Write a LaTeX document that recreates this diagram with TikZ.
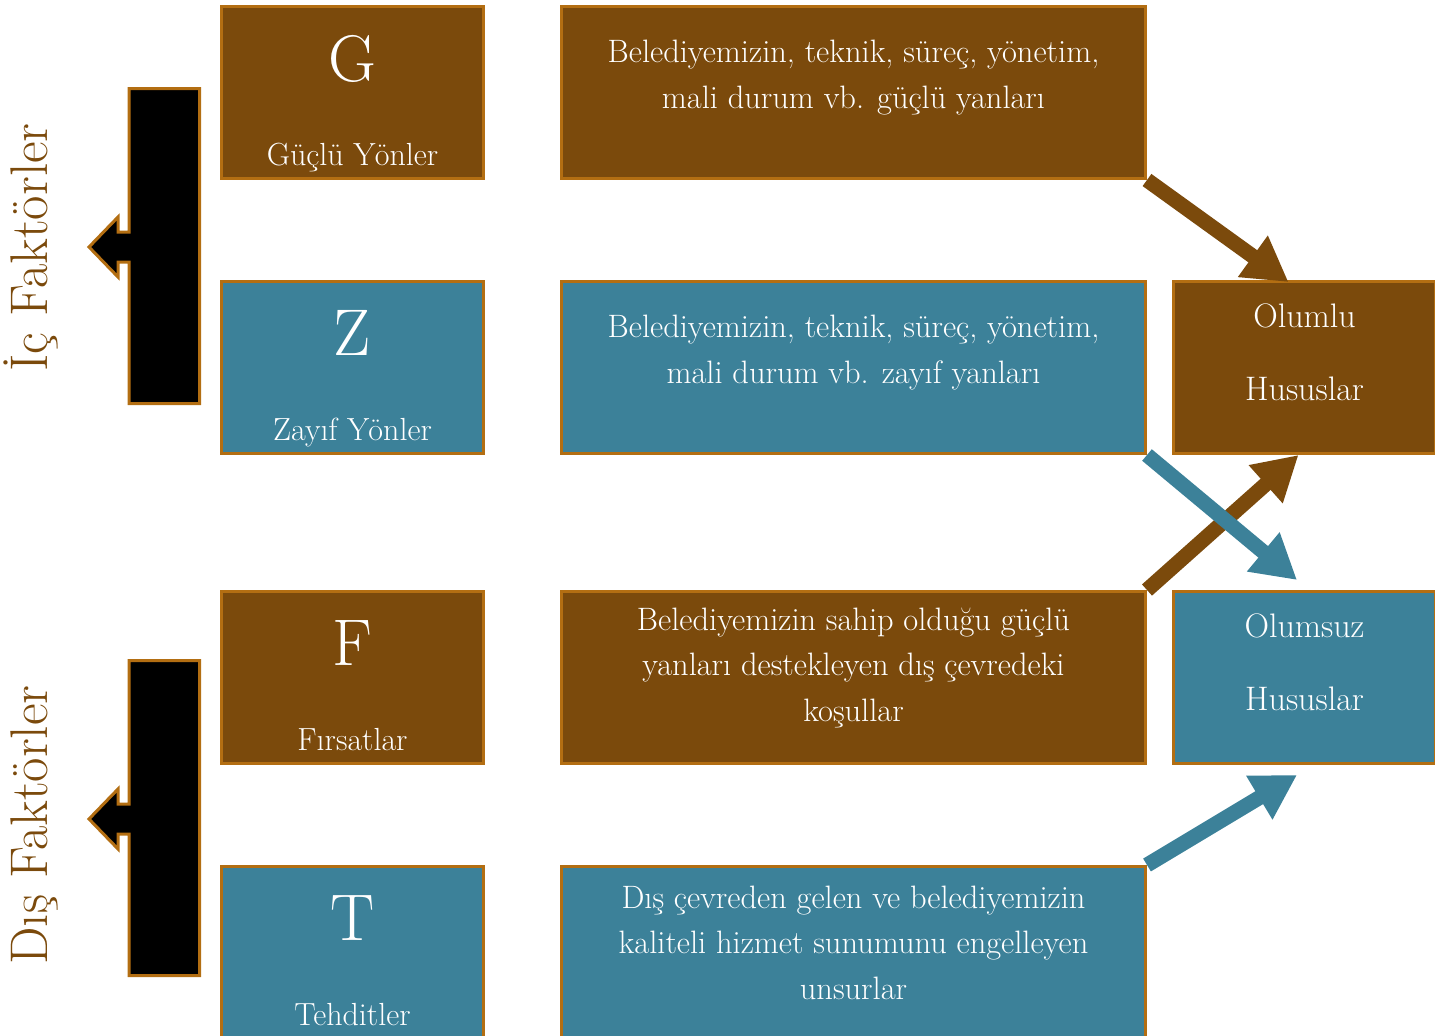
\documentclass[tikz,border=0pt]{standalone}
\usepackage{fontspec}
\usepackage{tikz}
\usetikzlibrary{positioning, calc, arrows.meta}
\definecolor{swotbrown}{HTML}{7B4A0C}
\definecolor{swotblue}{HTML}{3C8199}
\definecolor{swotedge}{HTML}{B36E12}
\tikzstyle{Arrow} = [
    line width = 7.5pt,
    -{Triangle[length=22pt, width=24pt]}
]

\begin{document}
\begin{tikzpicture}[
box/.style={
    rectangle,
    draw = swotedge,
    line width = 1.5pt,
    minimum width = 131pt,
    minimum height = 86pt
    },
wide/.style={box, minimum width = 292pt},
letter/.style={text = white, inner sep = 0pt, font = \fontsize{33}{33}\selectfont},
caption/.style={text = white, inner sep = 0pt, anchor = base, font = \fontsize{16}{18}\selectfont},
desc/.style={text = white, align = center, font = \fontsize{16.2}{22.75}\selectfont},
result/.style={text = white, align = center, font = \fontsize{17}{36.5}\selectfont},
side/.style={draw = swotedge, line width = 1.5pt, fill = black},
factor/.style={text = swotbrown, rotate = 90, anchor = base, font = \fontsize{26.5}{26.5}\selectfont}
]

\clip (0,0) rectangle (717.5pt,-517.5pt);

% left column
\node [box, fill=swotbrown] (G) at (176.25pt,-46.25pt) {};
\node [box, fill=swotblue, below = 50pt of G] (Z) {};
\node [box, fill=swotbrown, below = 67.5pt of Z] (F) {};
\node [box, fill=swotblue, below = 50pt of F] (T) {};

\node [letter, below = 15pt of G.north] (G1) {G};
\node [letter, below = 15pt of Z.north] (Z1) {Z};
\node [letter, below = 15pt of F.north] (F1) {F};
\node [letter, below = 15pt of T.north] (T1) {T};

\node [caption] (G2) at ([yshift=7.5pt]G.south) {Güçlü Yönler};
\node [caption] (Z2) at ([yshift=7.5pt]Z.south) {Zayıf Yönler};
\node [caption] (F2) at ([yshift=7.5pt]F.south) {Fırsatlar};
\node [caption] (T2) at ([yshift=7.5pt]T.south) {Tehditler};

% descriptions
\node [wide, fill=swotbrown, right = 37.5pt of G] (Gd) {};
\node [wide, fill=swotblue, right = 37.5pt of Z] (Zd) {};
\node [wide, fill=swotbrown, right = 37.5pt of F] (Fd) {};
\node [wide, fill=swotblue, right = 37.5pt of T] (Td) {};

\node [desc] (Gt) at ([yshift=7.5pt]Gd.center) {Belediyemizin, teknik, süreç, yönetim,\\mali durum vb. güçlü yanları};
\node [desc] (Zt) at ([yshift=7.5pt]Zd.center) {Belediyemizin, teknik, süreç, yönetim,\\mali durum vb. zayıf yanları};
\node [desc] (Ft) at ([yshift=5pt]Fd.center) {Belediyemizin sahip olduğu güçlü\\yanları destekleyen dış çevredeki\\koşullar};
\node [desc] (Tt) at ([yshift=5pt]Td.center) {Dış çevreden gelen ve belediyemizin\\kaliteli hizmet sunumunu engelleyen\\unsurlar};

% results
\node [box, fill=swotbrown, right = 12.5pt of Zd] (Pos) {};
\node [box, fill=swotblue, right = 12.5pt of Fd] (Neg) {};
\node [result] (Pt) at ([yshift=7.5pt]Pos.center) {Olumlu\\Hususlar};
\node [result] (Nt) at ([yshift=7.5pt]Neg.center) {Olumsuz\\Hususlar};

% factor bars
\draw [side] (99.75pt,-44.25pt) -- (64.5pt,-44.25pt) -- (64.5pt,-116pt) -- (59pt,-116pt) -- (59pt,-108.5pt)
    -- (44.5pt,-123.5pt) -- (59pt,-138.5pt) -- (59pt,-131pt) -- (64.5pt,-131pt) -- (64.5pt,-201.75pt)
    -- (99.75pt,-201.75pt) -- cycle;
\draw [side, shift={(0,-286pt)}] (99.75pt,-44.25pt) -- (64.5pt,-44.25pt) -- (64.5pt,-116pt) -- (59pt,-116pt) -- (59pt,-108.5pt)
    -- (44.5pt,-123.5pt) -- (59pt,-138.5pt) -- (59pt,-131pt) -- (64.5pt,-131pt) -- (64.5pt,-201.75pt)
    -- (99.75pt,-201.75pt) -- cycle;

\node [factor] (ic) at (23.5pt,-123.75pt) {İç Faktörler};
\node [factor] (dis) at (23.5pt,-412.5pt) {Dış Faktörler};

% arrows
\draw [Arrow, swotbrown] (Gd.south east) -- ([shift={(-8pt,-1pt)}]Pos.north);
\draw [Arrow, swotbrown] (Fd.north east) -- ([xshift=-3pt]Pos.south);
\draw [Arrow, swotblue] (Zd.south east) -- ([shift={(-3.75pt,5pt)}]Neg.north);
\draw [Arrow, swotblue] (Td.north east) -- ([shift={(-3.75pt,-5pt)}]Neg.south);

\end{tikzpicture}
\end{document}
